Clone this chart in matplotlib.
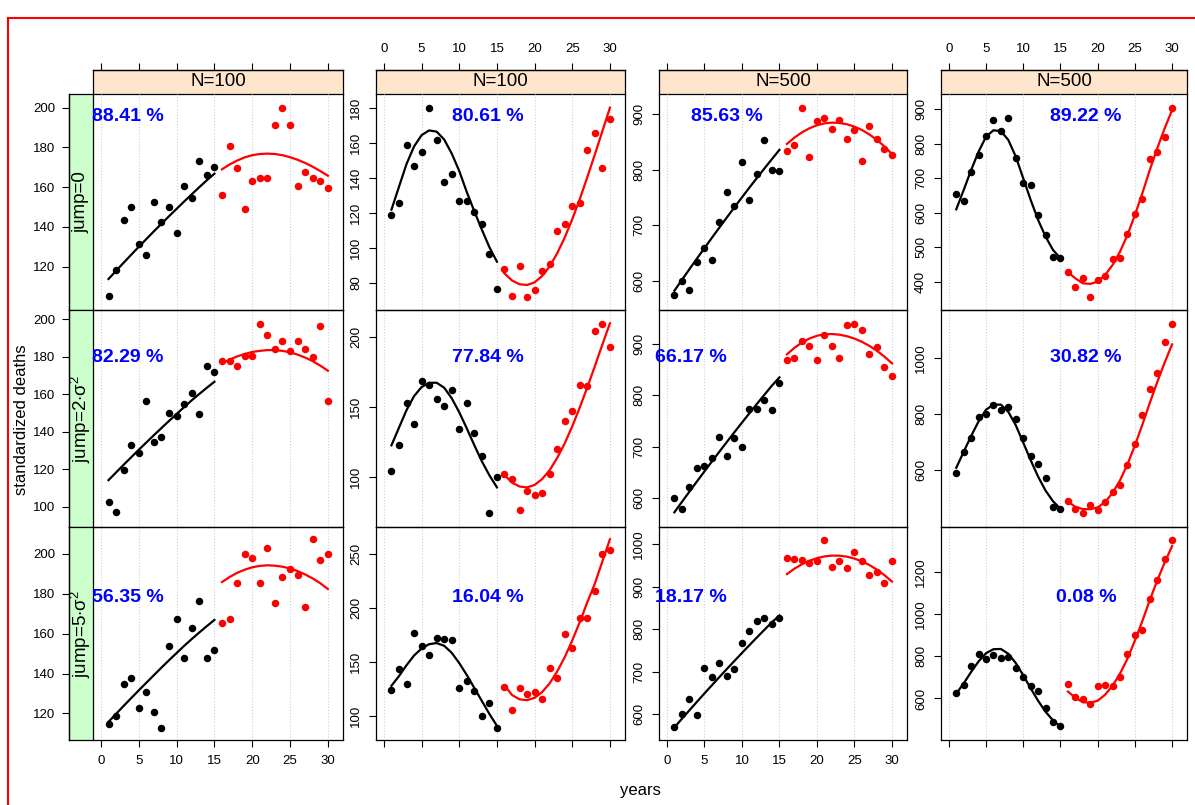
import matplotlib.pyplot as plt
from matplotlib.lines import Line2D

plt.rcParams['font.family'] = ['Liberation Sans', 'DejaVu Sans']
plt.rcParams['mathtext.fontset'] = 'custom'
plt.rcParams['mathtext.rm'] = 'Liberation Sans'
plt.rcParams['mathtext.it'] = 'Liberation Sans:italic'

years = list(range(1, 31))
col_labels = ['N=100', 'N=100', 'N=500', 'N=500']
row_labels = ['jump=0', r'jump=2$\cdot\mathrm{\sigma}^2$', r'jump=5$\cdot\mathrm{\sigma}^2$']
pct_labels = [['88.41 %', '80.61 %', '85.63 %', '89.22 %'],
              ['82.29 %', '77.84 %', '66.17 %', '30.82 %'],
              ['56.35 %', '16.04 %', '18.17 %', '0.08 %']]
x_ticks = [0, 5, 10, 15, 20, 25, 30]

# observed deaths (years 1-15 before the jump, 16-30 after)
obs_r1c1 = [105.1, 118.2, 143.6, 149.9, 131.6, 125.7, 152.7, 142.6, 149.9, 136.8, 160.8, 154.7, 173.0, 166.0, 170.0,
            155.9, 180.9, 169.8, 148.8, 162.9, 164.8, 164.8, 191.1, 200.0, 191.1, 160.8, 167.8, 164.8, 162.9, 159.7]
obs_r2c1 = [102.3, 97.0, 119.4, 133.1, 128.8, 156.2, 134.7, 137.0, 149.8, 148.2, 155.0, 160.9, 149.3, 174.9, 172.1,
            177.9, 177.9, 174.9, 180.2, 180.2, 197.7, 191.8, 184.0, 188.6, 182.9, 188.6, 184.0, 180.1, 196.6, 156.2]
obs_r3c1 = [114.8, 118.8, 134.9, 137.9, 122.8, 130.8, 120.8, 112.8, 153.9, 167.4, 147.9, 162.9, 176.2, 147.9, 151.9,
            165.4, 167.4, 185.4, 200.2, 198.2, 185.4, 203.2, 175.2, 188.4, 192.2, 189.4, 173.2, 207.3, 197.2, 200.2]
obs_r1c2 = [119.0, 125.9, 159.0, 147.0, 155.0, 180.2, 161.9, 137.9, 142.1, 127.0, 127.0, 120.8, 113.9, 96.4, 76.8,
            88.2, 72.8, 89.9, 72.2, 76.2, 87.0, 91.0, 109.9, 113.9, 124.2, 125.9, 156.2, 165.9, 145.9, 173.9]
obs_r2c2 = [104.3, 122.9, 152.9, 137.9, 168.6, 165.7, 155.7, 150.7, 162.1, 134.3, 152.9, 131.4, 115.0, 74.3, 100.0,
            102.1, 98.6, 76.4, 89.5, 87.1, 88.6, 102.1, 120.0, 140.0, 147.1, 165.7, 165.0, 204.3, 209.3, 192.9]
obs_r3c2 = [124.2, 143.6, 129.8, 176.7, 164.7, 156.4, 172.1, 171.2, 170.2, 126.1, 132.5, 123.3, 100.3, 112.3, 89.3,
            127.0, 105.8, 126.1, 120.6, 122.4, 116.0, 144.5, 135.3, 175.8, 162.9, 190.5, 190.5, 215.3, 250.3, 253.1]
obs_r1c3 = [574.7, 598.7, 583.7, 633.0, 659.5, 637.8, 705.2, 759.3, 735.2, 814.6, 746.1, 791.8, 854.3, 800.2, 798.4,
            834.5, 845.3, 912.0, 822.4, 888.6, 894.0, 874.1, 890.4, 856.1, 872.3, 816.4, 879.6, 856.1, 838.1, 827.2]
obs_r2c3 = [600.6, 579.2, 621.4, 659.1, 663.0, 678.6, 719.5, 682.5, 717.5, 700.0, 774.0, 774.0, 791.6, 772.1, 824.7,
            869.5, 873.4, 906.5, 896.8, 869.5, 918.2, 896.8, 873.4, 937.7, 939.6, 927.9, 881.2, 894.8, 855.8, 838.3]
obs_r3c3 = [569.6, 600.0, 636.6, 597.7, 709.7, 688.7, 720.6, 691.1, 706.6, 767.3, 795.3, 818.7, 825.7, 811.7, 825.7,
            968.1, 965.0, 962.6, 954.1, 958.8, 1010.1, 944.7, 961.1, 942.4, 982.1, 958.8, 926.1, 933.1, 907.4, 961.1]
obs_r1c4 = [655.3, 634.1, 718.9, 767.1, 822.9, 868.2, 836.4, 875.0, 759.3, 687.1, 681.3, 593.6, 535.8, 473.2, 469.4,
            427.9, 386.5, 412.5, 357.6, 406.7, 418.3, 466.5, 470.3, 537.8, 597.5, 638.9, 755.5, 776.7, 820.0, 903.9]
obs_r2c4 = [590.4, 665.7, 715.8, 791.0, 799.4, 834.0, 816.1, 826.9, 781.5, 715.8, 651.3, 622.7, 572.5, 468.7, 461.5,
            487.8, 461.5, 447.2, 475.8, 457.9, 484.2, 522.4, 547.5, 619.1, 694.3, 798.2, 891.3, 946.3, 1059.7, 1124.2]
obs_r3c4 = [625.2, 664.6, 752.8, 811.0, 787.4, 806.3, 792.1, 796.9, 744.9, 702.4, 659.8, 636.2, 555.9, 489.8, 469.3,
            669.3, 607.9, 596.9, 574.8, 659.8, 664.6, 659.8, 702.4, 811.0, 900.8, 924.4, 1070.9, 1160.6, 1259.8, 1354.3]

# fitted curves, one value per year
fit_r1c1 = [113.8, 117.9, 122.0, 126.0, 130.0, 133.9, 137.8, 141.6, 145.4, 149.1, 152.8, 156.4, 160.0, 163.5, 166.8,
            169.0, 171.4, 173.4, 175.0, 176.1, 176.7, 176.9, 176.7, 176.1, 175.1, 173.8, 172.2, 170.3, 168.1, 165.8]
fit_r2c1 = [114.2, 118.3, 122.4, 126.4, 130.4, 134.3, 138.2, 142.0, 145.8, 149.5, 153.2, 156.8, 160.2, 163.5, 166.7,
            176.5, 178.5, 180.2, 181.5, 182.6, 183.2, 183.6, 183.6, 183.2, 182.4, 181.2, 179.6, 177.7, 175.3, 172.6]
fit_r3c1 = [115.8, 119.8, 123.8, 127.7, 131.6, 135.4, 139.2, 143.0, 146.7, 150.3, 153.9, 157.3, 160.6, 163.8, 166.9,
            185.9, 188.4, 190.5, 192.1, 193.3, 194.0, 194.3, 194.1, 193.6, 192.7, 191.4, 189.7, 187.7, 185.3, 182.4]
fit_r1c2 = [121.9, 135.0, 148.0, 158.0, 164.5, 167.2, 166.5, 162.0, 154.0, 144.0, 132.0, 121.0, 110.5, 100.5, 92.2,
            85.5, 81.5, 79.3, 78.9, 80.4, 84.0, 89.5, 97.0, 106.0, 116.5, 128.0, 140.5, 153.5, 166.8, 180.2]
fit_r2c2 = [122.4, 135.0, 147.5, 157.5, 164.0, 167.0, 167.1, 163.5, 156.0, 146.0, 134.5, 122.5, 111.0, 101.0, 92.4,
            101.2, 95.8, 93.0, 92.4, 94.1, 98.3, 104.7, 113.4, 123.8, 136.0, 149.4, 163.9, 178.9, 194.4, 209.5]
fit_r3c2 = [128.0, 137.0, 147.0, 156.0, 162.5, 166.5, 167.5, 165.0, 158.5, 149.0, 138.0, 126.0, 114.0, 102.0, 91.0,
            128.5, 119.5, 115.5, 114.7, 116.9, 122.2, 130.3, 141.3, 154.5, 170.0, 186.9, 205.3, 222.5, 243.0, 263.5]
fit_r1c3 = [581.9, 601.4, 620.7, 639.8, 658.7, 677.4, 695.9, 714.2, 732.3, 750.2, 767.9, 785.3, 802.4, 819.3, 835.9,
            846.6, 858.0, 867.4, 874.8, 880.2, 883.6, 885.0, 884.4, 882.0, 877.7, 871.6, 863.6, 853.7, 842.0, 828.4]
fit_r2c3 = [572.1, 592.3, 612.3, 632.1, 651.7, 671.1, 690.3, 709.3, 728.1, 746.7, 765.1, 783.3, 801.2, 818.9, 835.0,
            879.9, 892.5, 902.8, 910.6, 916.0, 918.9, 919.4, 918.1, 915.1, 910.5, 904.2, 896.2, 886.6, 875.3, 862.3]
fit_r3c3 = [569.5, 589.7, 609.7, 629.5, 649.1, 668.5, 687.7, 706.7, 725.5, 744.1, 762.5, 780.7, 798.6, 816.3, 832.0,
            929.2, 941.9, 952.3, 960.5, 966.7, 970.7, 972.6, 972.4, 970.1, 965.6, 959.1, 950.4, 939.6, 926.6, 911.6]
fit_r1c4 = [610.0, 665.9, 723.7, 776.7, 820.0, 838.5, 836.0, 810.4, 762.2, 699.6, 637.0, 579.2, 531.0, 492.5, 468.4,
            428.0, 410.6, 396.2, 394.5, 401.0, 420.2, 449.1, 487.7, 535.8, 593.6, 656.3, 723.7, 786.3, 844.1, 897.1]
fit_r2c4 = [608.0, 665.0, 722.0, 774.0, 816.0, 834.0, 834.0, 808.0, 760.0, 698.0, 635.0, 576.0, 526.0, 488.0, 461.0,
            487.0, 468.0, 460.0, 459.5, 466.0, 485.0, 518.0, 563.0, 620.0, 688.0, 762.0, 840.0, 915.0, 985.0, 1050.0]
fit_r3c4 = [623.0, 672.0, 726.0, 776.0, 815.0, 834.0, 835.0, 812.0, 768.0, 710.0, 648.0, 589.0, 537.0, 496.0, 466.0,
            633.0, 603.8, 582.5, 579.5, 589.6, 618.0, 660.8, 717.9, 789.1, 874.6, 967.4, 1067.2, 1159.8, 1245.4, 1323.8]

obs = [[obs_r1c1, obs_r1c2, obs_r1c3, obs_r1c4],
       [obs_r2c1, obs_r2c2, obs_r2c3, obs_r2c4],
       [obs_r3c1, obs_r3c2, obs_r3c3, obs_r3c4]]
fits = [[fit_r1c1, fit_r1c2, fit_r1c3, fit_r1c4],
        [fit_r2c1, fit_r2c2, fit_r2c3, fit_r2c4],
        [fit_r3c1, fit_r3c2, fit_r3c3, fit_r3c4]]

y_limits = [[(98.2, 206.9), (64.6, 188.0), (547.2, 936.6), (319.0, 943.4)],
            [(89.2, 205.0), (64.1, 219.0), (543.5, 966.2), (395.8, 1173.0)],
            [(106.7, 213.5), (77.9, 274.8), (540.0, 1039.7), (403.0, 1414.0)]]
y_ticks = [[[120, 140, 160, 180, 200], [80, 100, 120, 140, 160, 180], [600, 700, 800, 900], [400, 500, 600, 700, 800, 900]],
           [[100, 120, 140, 160, 180, 200], [100, 150, 200], [600, 700, 800, 900], [600, 800, 1000]],
           [[120, 140, 160, 180, 200], [100, 150, 200, 250], [600, 700, 800, 900, 1000], [600, 800, 1000, 1200]]]

# layout in pixels
W, H = 1195, 805
col_x = [(93, 343), (376, 625), (659, 907), (941, 1187)]
row_y = [(94, 310), (310, 527), (527, 740)]
strip_h = 24
pct_x = [[0.138, 0.448, 0.272, 0.589],
         [0.138, 0.448, 0.127, 0.589],
         [0.138, 0.448, 0.127, 0.589]]
pct_y = [0.894, 0.783, 0.668]


def box(x0, y0, x1, y1):
    return [x0 / W, 1 - y1 / H, (x1 - x0) / W, (y1 - y0) / H]


fig = plt.figure(figsize=(W / 100, H / 100), dpi=100)
out_pt = strip_h * 72 / 100

for r in range(3):
    for c in range(4):
        ax = fig.add_axes(box(col_x[c][0], row_y[r][0], col_x[c][1], row_y[r][1]))
        ax.set_zorder(2)
        ax.patch.set_visible(False)
        o = obs[r][c]
        f = fits[r][c]
        ax.plot(years[:15], f[:15], color='black', lw=1.6)
        ax.plot(years[15:], f[15:], color='red', lw=1.6)
        ax.plot(years[:15], o[:15], 'o', color='black', ms=5.4, mew=0)
        ax.plot(years[15:], o[15:], 'o', color='red', ms=5.4, mew=0)
        ax.set_xlim(-1.05, 32.0)
        ax.set_ylim(*y_limits[r][c])
        ax.set_xticks(x_ticks)
        ax.grid(axis='x', color='#d0d0d0', ls=':', lw=0.8)
        ax.set_axisbelow(True)
        ax.set_yticks(y_ticks[r][c], [str(v) for v in y_ticks[r][c]], rotation=90, va='center')
        for sp in ax.spines.values():
            sp.set_linewidth(0.9)
        ax.tick_params(axis='both', direction='out', length=5, width=0.8, labelsize=9.5, pad=5)

        if r == 0:
            ax.spines['top'].set_position(('outward', out_pt))
            ax.tick_params(axis='x', bottom=False, top=True, labelbottom=False,
                           labeltop=(c in (1, 3)), pad=6)
        elif r == 2:
            ax.tick_params(axis='x', bottom=True, top=False, labelbottom=(c in (0, 2)), pad=6)
        else:
            ax.tick_params(axis='x', bottom=False, top=False, labelbottom=False)

        if c == 0:
            ax.spines['left'].set_position(('outward', out_pt))

        ax.text(pct_x[r][c], pct_y[r], pct_labels[r][c], transform=ax.transAxes,
                ha='center', va='center', fontsize=14, fontweight='bold', color='blue', clip_on=False)

# strips
for c in range(4):
    s = fig.add_axes(box(col_x[c][0], row_y[0][0] - strip_h, col_x[c][1], row_y[0][0]), facecolor='#ffe5cc')
    s.set_zorder(1)
    s.set_xticks([])
    s.set_yticks([])
    for sp in s.spines.values():
        sp.set_linewidth(0.9)
    s.text(0.5, 0.5, col_labels[c], ha='center', va='center', fontsize=13.5, transform=s.transAxes)

for r in range(3):
    s = fig.add_axes(box(col_x[0][0] - strip_h, row_y[r][0], col_x[0][0], row_y[r][1]), facecolor='#ccffcc')
    s.set_zorder(1)
    s.set_xticks([])
    s.set_yticks([])
    for sp in s.spines.values():
        sp.set_linewidth(0.9)
    s.text(0.5, 0.5, row_labels[r], ha='center', va='center', rotation=90, fontsize=13.5, transform=s.transAxes)

fig.text(22 / W, 1 - 420 / H, 'standardized deaths', rotation=90, ha='center', va='center', fontsize=12)
fig.text(640 / W, 1 - 790 / H, 'years', ha='center', va='center', fontsize=12)

# red frame along the top and left edge
fig.add_artist(Line2D([8 / W, 1], [1 - 18 / H, 1 - 18 / H], color='red', lw=1.5, transform=fig.transFigure))
fig.add_artist(Line2D([8 / W, 8 / W], [0, 1 - 18 / H], color='red', lw=1.5, transform=fig.transFigure))

fig.savefig('out.png', dpi=100)
